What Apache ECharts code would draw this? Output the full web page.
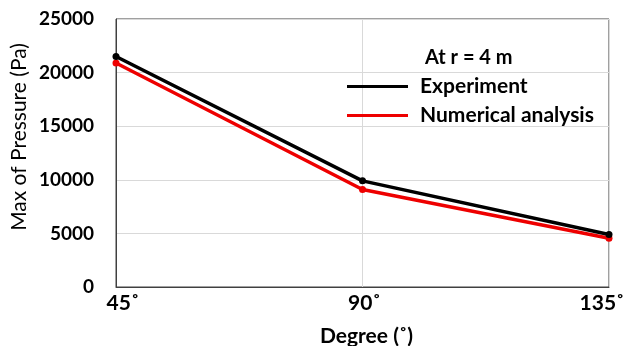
<!DOCTYPE html>
<html>
<head>
<meta charset="utf-8">
<script src="https://cdn.jsdelivr.net/npm/echarts@6/dist/echarts.min.js"></script>
<style>
  html, body { margin: 0; padding: 0; background: #fff; }
  #chart { width: 625px; height: 346px; }
</style>
</head>
<body>
<div id="chart"></div>
<script>
  const degrees = ['45˚', '90˚', '135˚'];
  const experiment = [21500, 9900, 4900];
  const numerical = [20900, 9100, 4550];
  const yTicks = [0, 5000, 10000, 15000, 20000, 25000];
  const yTitle = 'Max of Pressure (Pa)';

  // nudges so the end labels sit as in the original figure
  const labelPad = [[0, 0, 0, 14], [0, 0, 0, 4], [0, 14, 0, 0]];

  const chart = echarts.init(document.getElementById('chart'));
  const font = 'Lato, "Open Sans", sans-serif';

  chart.setOption({
    animation: false,
    title: {
      text: 'At r = 4 m',
      left: 425,
      top: 48,
      padding: 0,
      textStyle: { fontFamily: font, fontSize: 20, fontWeight: 'bold', color: '#000' }
    },
    legend: {
      orient: 'vertical',
      left: 347,
      top: 76,
      padding: 0,
      itemWidth: 61,
      itemHeight: 3,
      itemGap: 8,
      icon: 'rect',
      data: ['Experiment', 'Numerical analysis'],
      textStyle: { fontFamily: font, fontSize: 21, fontWeight: 'bold', color: '#000', lineHeight: 21, padding: [0, 0, 0, 7] }
    },
    // y axis title drawn as text; the axis name gets hidden with fixed bounds
    graphic: [{
      type: 'text',
      x: 19,
      y: 137,
      rotation: Math.PI / 2,
      style: {
        text: yTitle,
        font: '21px ' + font,
        fill: '#000',
        align: 'center',
        verticalAlign: 'middle'
      }
    }],
    grid: {
      left: 116, right: 16, top: 19, bottom: 59,
      outerBoundsMode: 'none',
      containLabel: false,
      show: true, borderColor: '#404040', borderWidth: 1
    },
    xAxis: {
      type: 'category',
      data: degrees.map((d, i) => ({ value: d, textStyle: { padding: labelPad[i] } })),
      boundaryGap: false,
      name: 'Degree (˚)',
      nameLocation: 'middle',
      nameGap: 39,
      nameTextStyle: { fontFamily: font, fontSize: 21, fontWeight: 'bold', color: '#000', padding: [0, 0, 0, 8] },
      axisLine: { lineStyle: { color: '#404040' } },
      axisTick: { show: false },
      axisLabel: { fontFamily: font, fontSize: 21, fontWeight: 'bold', color: '#000', margin: 6 },
      splitLine: { show: true, lineStyle: { color: '#d9d9d9' } }
    },
    yAxis: {
      type: 'value',
      min: yTicks[0],
      max: yTicks[yTicks.length - 1],
      interval: yTicks[1] - yTicks[0],
      axisLine: { show: true, lineStyle: { color: '#404040' } },
      axisTick: { show: false },
      axisLabel: { fontFamily: font, fontSize: 19, fontWeight: 'bold', color: '#000', margin: 22, formatter: v => String(v) },
      splitLine: { lineStyle: { color: '#d9d9d9' } }
    },
    series: [
      {
        name: 'Experiment',
        type: 'line',
        data: experiment,
        color: '#000',
        lineStyle: { width: 3.5 },
        symbol: 'circle',
        symbolSize: 7,
        z: 3
      },
      {
        name: 'Numerical analysis',
        type: 'line',
        data: numerical,
        color: '#ee0000',
        lineStyle: { width: 3.5 },
        symbol: 'circle',
        symbolSize: 7,
        z: 2
      }
    ]
  });
</script>
</body>
</html>
